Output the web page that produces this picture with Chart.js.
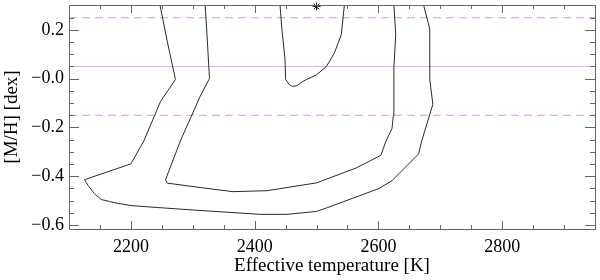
<!DOCTYPE html>
<html>
<head>
<meta charset="utf-8">
<script src="https://cdn.jsdelivr.net/npm/chart.js@4.4.1/dist/chart.umd.min.js"></script>
<style>
html, body { margin: 0; padding: 0; background: #fff; }
</style>
</head>
<body>
<canvas id="chart" width="600" height="280"></canvas>
<script>
// Contours: effective temperature (K) vs [M/H] (dex)
const outerTeff = [2247, 2259, 2272, 2248, 2221, 2200, 2125, 2131, 2141, 2152, 2165, 2179, 2200, 2243, 2312, 2409, 2452, 2500, 2518, 2601, 2622, 2665, 2670, 2688, 2683, 2683, 2673];
const outerMH   = [0.302, 0.15, -0.003, -0.093, -0.255, -0.349, -0.414, -0.438, -0.471, -0.495, -0.503, -0.511, -0.520, -0.528, -0.540, -0.556, -0.556, -0.544, -0.528, -0.450, -0.418, -0.308, -0.255, -0.105, -0.003, 0.204, 0.302];

const innerTeff = [2320, 2323, 2327, 2312, 2280, 2256, 2259, 2312, 2365, 2420, 2500, 2564, 2604, 2612, 2622, 2624, 2625, 2628, 2625];
const innerMH   = [0.302, 0.180, 0.001, -0.072, -0.255, -0.414, -0.428, -0.446, -0.463, -0.459, -0.427, -0.366, -0.314, -0.257, -0.204, -0.154, 0.046, 0.180, 0.302];

const coreTeff = [2441, 2444, 2449, 2450, 2456, 2461, 2469, 2477, 2484, 2500, 2516, 2529, 2540, 2545];
const coreMH   = [0.302, 0.204, 0.082, -0.003, -0.024, -0.032, -0.028, -0.012, -0.003, 0.016, 0.050, 0.106, 0.181, 0.302];

// best fit marker
const bestTeff = 2500;
const bestMH = 0.296;

// horizontal reference levels
const solidLevels = [0.05];
const dashedLevels = [0.25, -0.15];

// axes
const xMin = 2100, xMax = 2950;
const yMin = -0.616, yMax = 0.302;
const xMajorTicks = [2200, 2400, 2600, 2800];
const xMajorLabels = ['2200', '2400', '2600', '2800'];
const xMinorTicks = [2150, 2250, 2300, 2350, 2450, 2500, 2550, 2650, 2700, 2750, 2850, 2900];
const yMajorTicks = [-0.6, -0.4, -0.2, 0.0, 0.2];
const yMajorLabels = ['\u22120.6', '\u22120.4', '\u22120.2', '\u22120.0', '0.2'];
const yMinorTicks = [-0.55, -0.5, -0.45, -0.35, -0.3, -0.25, -0.15, -0.1, -0.05, 0.05, 0.1, 0.15, 0.25, 0.3];

const FONT = { family: "'Liberation Serif', 'DejaVu Serif', serif", size: 18 };
const TITLE_FONT = { family: "'Liberation Serif', 'DejaVu Serif', serif", size: 19 };

function pairs(xs, ys) {
    return xs.map((x, i) => ({ x: x, y: ys[i] }));
}

function contour(xs, ys) {
    return {
        data: pairs(xs, ys),
        showLine: true,
        borderColor: '#2a2a2a',
        borderWidth: 1,
        pointRadius: 0,
        tension: 0,
        order: 1
    };
}

function level(v, dashed) {
    return {
        data: [{ x: xMin, y: v }, { x: xMax, y: v }],
        showLine: true,
        borderColor: dashed ? '#d99ad9' : '#e6b0e6',
        borderWidth: 1,
        borderDash: dashed ? [8, 5] : [],
        pointRadius: 0,
        order: 5
    };
}

// IDL style box with inward ticks on all sides
const boxTicks = {
    id: 'boxTicks',
    afterDraw(chart) {
        const ctx = chart.ctx;
        const a = chart.chartArea;
        const xs = chart.scales.x, ys = chart.scales.y;
        ctx.save();
        ctx.strokeStyle = '#666';
        ctx.lineWidth = 1;
        ctx.beginPath();
        const mark = (vals, len, horiz) => {
            vals.forEach(v => {
                if (horiz) {
                    const px = Math.round(xs.getPixelForValue(v)) + 0.5;
                    ctx.moveTo(px, a.bottom); ctx.lineTo(px, a.bottom - len);
                    ctx.moveTo(px, a.top); ctx.lineTo(px, a.top + len);
                } else {
                    const py = Math.round(ys.getPixelForValue(v)) + 0.5;
                    ctx.moveTo(a.left, py); ctx.lineTo(a.left + len, py);
                    ctx.moveTo(a.right, py); ctx.lineTo(a.right - len, py);
                }
            });
        };
        mark(xMajorTicks, 8, true);
        mark(xMinorTicks, 4, true);
        mark(yMajorTicks, 10, false);
        mark(yMinorTicks, 5, false);
        ctx.stroke();
        ctx.strokeRect(Math.round(a.left) + 0.5, Math.round(a.top) + 0.5,
            Math.round(a.right - a.left), Math.round(a.bottom - a.top));
        ctx.restore();
    }
};

new Chart(document.getElementById('chart'), {
    type: 'scatter',
    data: {
        datasets: [
            contour(outerTeff, outerMH),
            contour(innerTeff, innerMH),
            contour(coreTeff, coreMH),
            {
                data: [{ x: bestTeff, y: bestMH }],
                pointStyle: 'star',
                pointRadius: 4,
                borderColor: '#222',
                borderWidth: 1,
                clip: false,
                order: 0
            },
            ...solidLevels.map(v => level(v, false)),
            ...dashedLevels.map(v => level(v, true))
        ]
    },
    options: {
        responsive: false,
        animation: false,
        devicePixelRatio: 1,
        layout: { padding: { top: 3, right: 2, left: 0, bottom: 0 } },
        plugins: {
            legend: { display: false },
            tooltip: { enabled: false }
        },
        scales: {
            x: {
                type: 'linear',
                min: xMin,
                max: xMax,
                afterBuildTicks: s => { s.ticks = xMajorTicks.map(v => ({ value: v })); },
                afterFit: s => {
                    s.height = 51;
                    s.paddingLeft = 0; s.paddingRight = 0;
                },
                grid: { display: false, drawTicks: false },
                border: { display: false },
                ticks: {
                    font: FONT,
                    color: '#000',
                    padding: 7,
                    maxRotation: 0,
                    autoSkip: false,
                    callback: function(value, i) { return xMajorLabels[i]; }
                },
                title: {
                    display: true,
                    text: 'Effective temperature [K]',
                    font: TITLE_FONT,
                    color: '#000',
                    padding: { top: 0, bottom: 3 }
                }
            },
            y: {
                type: 'linear',
                min: yMin,
                max: yMax,
                afterBuildTicks: s => { s.ticks = yMajorTicks.map(v => ({ value: v })); },
                afterFit: s => {
                    s.width = 69;
                    s.paddingTop = 0; s.paddingBottom = 0;
                },
                grid: { display: false, drawTicks: false },
                border: { display: false },
                ticks: {
                    font: FONT,
                    color: '#000',
                    padding: 5,
                    autoSkip: false,
                    callback: function(value, i) { return yMajorLabels[i]; }
                },
                title: {
                    display: true,
                    text: '[M/H] [dex]',
                    font: TITLE_FONT,
                    color: '#000',
                    padding: { top: 1, bottom: 0 }
                }
            }
        }
    },
    plugins: [boxTicks]
});
</script>
</body>
</html>
